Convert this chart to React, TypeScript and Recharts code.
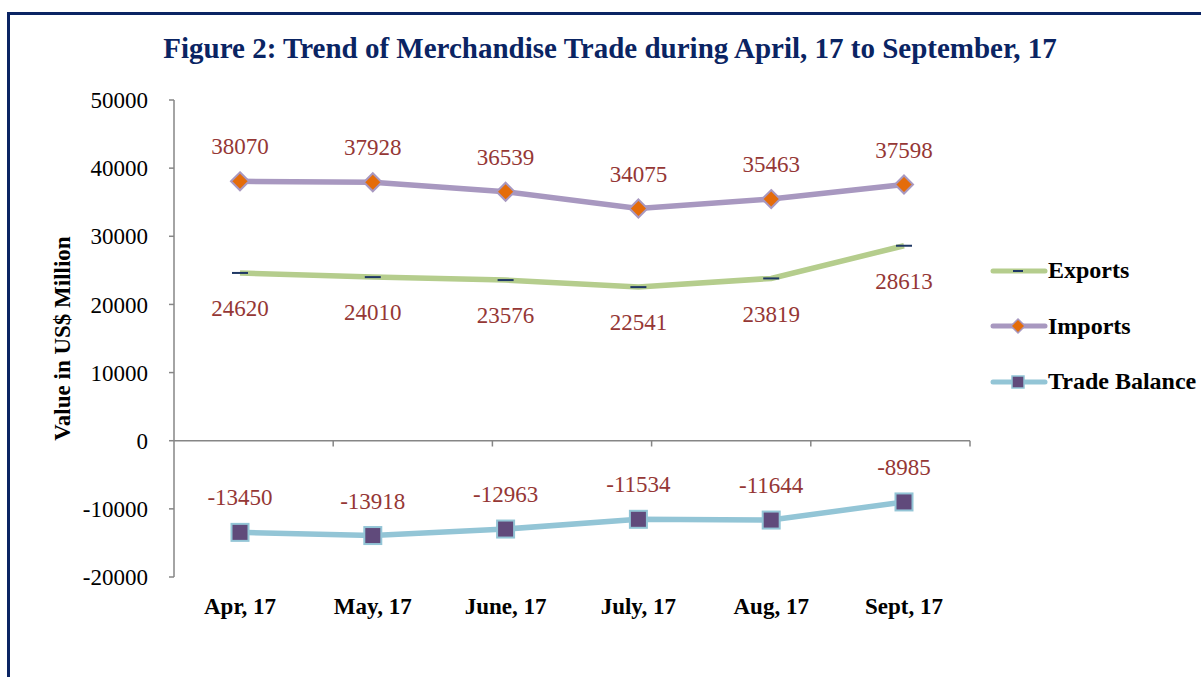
import React from 'react';
import { LineChart, Line, XAxis, YAxis, ReferenceLine, LabelList, Legend } from 'recharts';

const months = ['Apr, 17', 'May, 17', 'June, 17', 'July, 17', 'Aug, 17', 'Sept, 17'];
const exportsVals = [24620, 24010, 23576, 22541, 23819, 28613];
const importsVals = [38070, 37928, 36539, 34075, 35463, 37598];
const balanceVals = [-13450, -13918, -12963, -11534, -11644, -8985];
const yTicks = [-20000, -10000, 0, 10000, 20000, 30000, 40000, 50000];
const boundaries = [1, 2, 3, 4, 5, 6];

const data = months.map((month, i) => ({
  month,
  exports: exportsVals[i],
  imports: importsVals[i],
  balance: balanceVals[i],
}));

const SERIF = '"Liberation Serif", "Times New Roman", serif';
const LABEL_RED = '#953735';
const AXIS_GREY = '#868686';
const GREEN = '#B5CD8D';
const PURPLE = '#A898C0';
const BLUE = '#93C5D6';
const TICK_DEPTH = 850; // downward tick marks on the zero line, in data units

const DashDot = (props: any) => {
  const { cx, cy, index } = props;
  if (cx == null || cy == null) return <g key={index} />;
  return <rect key={index} x={cx - 8} y={cy - 1} width={16} height={2} fill="#1F3864" />;
};

const DiamondDot = (props: any) => {
  const { cx, cy, index } = props;
  if (cx == null || cy == null) return <g key={index} />;
  const r = 9;
  return (
    <path
      key={index}
      d={`M${cx},${cy - r} L${cx + r},${cy} L${cx},${cy + r} L${cx - r},${cy} Z`}
      fill="#E46C0A"
      stroke={PURPLE}
      strokeWidth={2}
    />
  );
};

const SquareDot = (props: any) => {
  const { cx, cy, index } = props;
  if (cx == null || cy == null) return <g key={index} />;
  return (
    <rect key={index} x={cx - 8.5} y={cy - 8.5} width={17} height={17} fill="#604A7B" stroke={BLUE} strokeWidth={2} />
  );
};

const legendItems = [
  { name: 'Exports', color: GREEN, marker: 'dash' },
  { name: 'Imports', color: PURPLE, marker: 'diamond' },
  { name: 'Trade Balance', color: BLUE, marker: 'square' },
];

const LegendContent = () => (
  <div style={{ fontFamily: SERIF }}>
    {legendItems.map((it) => (
      <div key={it.name} style={{ display: 'flex', alignItems: 'center', height: 55.5 }}>
        <svg width={58} height={24} style={{ display: 'block' }}>
          <line x1={3} y1={12} x2={55} y2={12} stroke={it.color} strokeWidth={5} strokeLinecap="round" />
          {it.marker === 'dash' && <rect x={23} y={11} width={10} height={2} fill="#1F3864" />}
          {it.marker === 'diamond' && <path d="M28,5 L35,12 L28,19 L21,12 Z" fill="#E46C0A" stroke={PURPLE} strokeWidth={1.5} />}
          {it.marker === 'square' && <rect x={22} y={6} width={12} height={12} fill="#604A7B" stroke={BLUE} strokeWidth={1.5} />}
        </svg>
        <span style={{ fontWeight: 'bold', fontSize: 24, color: '#000', whiteSpace: 'nowrap' }}>{it.name}</span>
      </div>
    ))}
  </div>
);

const YLabel = (props: any) => {
  const vb = props.viewBox || {};
  const cy = (vb.y || 0) + (vb.height || 0) / 2;
  const cx = 62;
  return (
    <text
      x={cx}
      y={cy}
      transform={`rotate(-90, ${cx}, ${cy})`}
      textAnchor="middle"
      dominantBaseline="central"
      fontFamily={SERIF}
      fontWeight="bold"
      fontSize={23}
      fill="#000"
    >
      Value in US$ Million
    </text>
  );
};

const labelStyle = { fill: LABEL_RED, fontSize: 23, fontFamily: SERIF };

export default function App() {
  return (
    <div style={{ position: 'absolute', left: 0, top: 0, width: 1201, height: 677, overflow: 'hidden', background: '#fff' }}>
      <div
        style={{
          position: 'absolute',
          left: 7,
          top: 12,
          width: 1220,
          height: 720,
          border: '3px solid #0A2463',
          boxSizing: 'border-box',
        }}
      />
      <div
        style={{
          position: 'absolute',
          left: 0,
          top: 32,
          width: 1220,
          textAlign: 'center',
          fontFamily: SERIF,
          fontWeight: 'bold',
          fontSize: 29,
          color: '#0A2463',
          whiteSpace: 'nowrap',
        }}
      >
        Figure 2: Trend of Merchandise Trade during April, 17 to September, 17
      </div>
      <div style={{ position: 'absolute', left: 0, top: 0 }}>
        <LineChart width={1201} height={677} data={data} margin={{ top: 100, right: 231, bottom: 0, left: 0 }}>
          <XAxis
            dataKey="month"
            axisLine={false}
            tickLine={false}
            tickSize={0}
            tickMargin={21}
            height={100}
            padding={{ left: 66, right: 66 }}
            interval={0}
            tick={{ fill: '#000', fontSize: 23, fontWeight: 'bold', fontFamily: SERIF }}
          />
          <XAxis xAxisId="grid" type="number" domain={[0, 6]} hide />
          <YAxis
            domain={[-20000, 50000]}
            ticks={yTicks}
            interval={0}
            width={174}
            axisLine={{ stroke: AXIS_GREY, strokeWidth: 1.5 }}
            tickLine={{ stroke: AXIS_GREY, strokeWidth: 1.5 }}
            tickSize={5}
            tickMargin={21}
            tick={{ fill: '#000', fontSize: 23, fontFamily: SERIF }}
            label={<YLabel />}
          />
          <ReferenceLine y={0} stroke={AXIS_GREY} strokeWidth={1.5} />
          {boundaries.map((b) => (
            <ReferenceLine
              key={b}
              xAxisId="grid"
              segment={[{ x: b, y: 0 }, { x: b, y: -TICK_DEPTH }]}
              stroke={AXIS_GREY}
              strokeWidth={1.5}
            />
          ))}
          <Legend
            layout="vertical"
            align="center"
            verticalAlign="middle"
            content={<LegendContent />}
            wrapperStyle={{ left: 990, top: 243, width: 211 }}
          />
          <Line
            dataKey="exports"
            name="Exports"
            stroke={GREEN}
            strokeWidth={5.5}
            dot={DashDot}
            activeDot={false}
            isAnimationActive={false}
          >
            <LabelList dataKey="exports" position="bottom" offset={27} style={labelStyle} />
          </Line>
          <Line
            dataKey="imports"
            name="Imports"
            stroke={PURPLE}
            strokeWidth={5.5}
            dot={DiamondDot}
            activeDot={false}
            isAnimationActive={false}
          >
            <LabelList dataKey="imports" position="top" offset={27} style={labelStyle} />
          </Line>
          <Line
            dataKey="balance"
            name="Trade Balance"
            stroke={BLUE}
            strokeWidth={5.5}
            dot={SquareDot}
            activeDot={false}
            isAnimationActive={false}
          >
            <LabelList dataKey="balance" position="top" offset={27} style={labelStyle} />
          </Line>
        </LineChart>
      </div>
    </div>
  );
}
